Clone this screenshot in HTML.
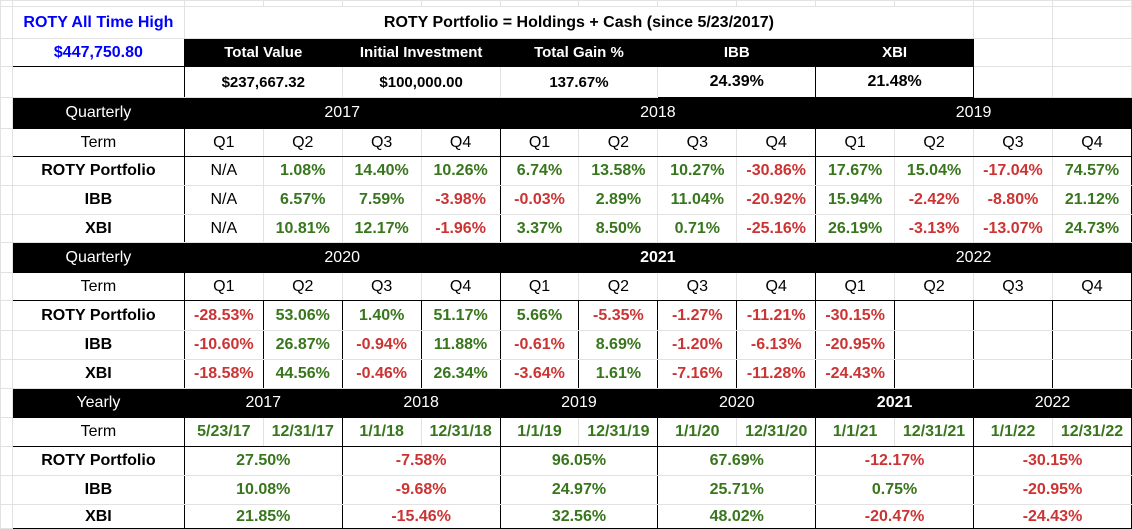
<!DOCTYPE html>
<html><head><meta charset="utf-8">
<style>
html,body{margin:0;padding:0;background:#fff;width:1132px;height:528px;overflow:hidden}
table{border-collapse:collapse;table-layout:fixed;font-family:"Liberation Sans",Arial,sans-serif;font-size:16px;position:absolute;left:0;top:0}
td{border:1px solid #e2e2e2;text-align:center;vertical-align:middle;padding:0;white-space:nowrap;overflow:hidden;color:#000}
.h{background:#000;color:#fff;border-color:#000}
.b{font-weight:bold}
.s{font-size:15px}
.g{color:#38761d;font-weight:bold}
.r{color:#cc3333;font-weight:bold}
.lb{border-left:1px solid #000}
.rb{border-right:1px solid #000}
.bb{border-bottom:1px solid #000}
.tb{border-top:1px solid #000}
.box{border:1px solid #000}
.pad{border-color:#e2e2e2;background:#fff}
</style></head><body>
<table>
<colgroup><col style="width:12px"><col style="width:172px">
<col style="width:79px"><col style="width:79px"><col style="width:79px"><col style="width:79px"><col style="width:79px"><col style="width:79px"><col style="width:79px"><col style="width:79px"><col style="width:79px"><col style="width:79px"><col style="width:79px"><col style="width:79px"></colgroup>
<tr style="height:6px"><td class="pad"></td><td></td><td></td><td></td><td></td><td></td><td></td><td></td><td></td><td></td><td></td><td></td><td></td><td></td></tr>
<tr style="height:32px"><td class="pad"></td>
<td style="color:#0000ff;font-weight:bold;font-size:16px">ROTY All Time High</td>
<td colspan="10" style="font-weight:bold;font-size:16px">ROTY Portfolio = Holdings + Cash (since 5/23/2017)</td><td></td><td></td></tr>
<tr style="height:28px"><td class="pad"></td>
<td class="box" style="color:#0000ff;font-weight:bold;font-size:16px">$447,750.80</td>
<td colspan="2" class="h b s">Total Value</td>
<td colspan="2" class="h b s">Initial Investment</td>
<td colspan="2" class="h b s">Total Gain %</td>
<td colspan="2" class="h b s">IBB</td>
<td colspan="2" class="h b s">XBI</td><td class="lb"></td><td></td></tr>
<tr style="height:31px"><td class="pad"></td><td class="lb rb"></td>
<td colspan="2" class="b s">$237,667.32</td>
<td colspan="2" class="b s">$100,000.00</td>
<td colspan="2" class="b s">137.67%</td>
<td colspan="2" class="b box">24.39%</td>
<td colspan="2" class="b box">21.48%</td><td class="lb"></td><td></td></tr>

<tr style="height:31px"><td class="pad"></td><td class="h">Quarterly</td>
<td colspan="4" class="h">2017</td><td colspan="4" class="h">2018</td><td colspan="4" class="h">2019</td></tr>
<tr style="height:28px"><td class="pad"></td><td class="lb rb bb">Term</td>
<td class="bb">Q1</td><td class="bb">Q2</td><td class="bb">Q3</td><td class="bb rb">Q4</td><td class="bb">Q1</td><td class="bb">Q2</td><td class="bb">Q3</td><td class="bb rb">Q4</td><td class="bb">Q1</td><td class="bb">Q2</td><td class="bb">Q3</td><td class="bb rb">Q4</td></tr>
<tr style="height:29px"><td class="pad"></td><td class="b lb rb">ROTY Portfolio</td>
<td>N/A</td><td class="g">1.08%</td><td class="g">14.40%</td><td class="g rb">10.26%</td><td class="g">6.74%</td><td class="g">13.58%</td><td class="g">10.27%</td><td class="r rb">-30.86%</td><td class="g">17.67%</td><td class="g">15.04%</td><td class="r">-17.04%</td><td class="g rb">74.57%</td></tr>
<tr style="height:29px"><td class="pad"></td><td class="b lb rb">IBB</td>
<td>N/A</td><td class="g">6.57%</td><td class="g">7.59%</td><td class="r rb">-3.98%</td><td class="r">-0.03%</td><td class="g">2.89%</td><td class="g">11.04%</td><td class="r rb">-20.92%</td><td class="g">15.94%</td><td class="r">-2.42%</td><td class="r">-8.80%</td><td class="g rb">21.12%</td></tr>
<tr style="height:28px"><td class="pad"></td><td class="b lb rb">XBI</td>
<td>N/A</td><td class="g">10.81%</td><td class="g">12.17%</td><td class="r rb">-1.96%</td><td class="g">3.37%</td><td class="g">8.50%</td><td class="g">0.71%</td><td class="r rb">-25.16%</td><td class="g">26.19%</td><td class="r">-3.13%</td><td class="r">-13.07%</td><td class="g rb">24.73%</td></tr>

<tr style="height:30px"><td class="pad"></td><td class="h">Quarterly</td>
<td colspan="4" class="h">2020</td><td colspan="4" class="h b">2021</td><td colspan="4" class="h">2022</td></tr>
<tr style="height:28px"><td class="pad"></td><td class="lb rb bb">Term</td>
<td class="bb">Q1</td><td class="bb">Q2</td><td class="bb">Q3</td><td class="bb rb">Q4</td><td class="bb">Q1</td><td class="bb">Q2</td><td class="bb">Q3</td><td class="bb rb">Q4</td><td class="bb">Q1</td><td class="bb">Q2</td><td class="bb">Q3</td><td class="bb rb">Q4</td></tr>
<tr style="height:30px"><td class="pad"></td><td class="b lb rb">ROTY Portfolio</td>
<td class="r rb">-28.53%</td><td class="g rb">53.06%</td><td class="g rb">1.40%</td><td class="g rb">51.17%</td><td class="g rb">5.66%</td><td class="r rb">-5.35%</td><td class="r rb">-1.27%</td><td class="r rb">-11.21%</td><td class="r rb">-30.15%</td><td class="rb tb"></td><td class="rb tb"></td><td class="rb tb"></td></tr>
<tr style="height:29px"><td class="pad"></td><td class="b lb rb">IBB</td>
<td class="r rb">-10.60%</td><td class="g rb">26.87%</td><td class="r rb">-0.94%</td><td class="g rb">11.88%</td><td class="r rb">-0.61%</td><td class="g rb">8.69%</td><td class="r rb">-1.20%</td><td class="r rb">-6.13%</td><td class="r rb">-20.95%</td><td class="rb"></td><td class="rb"></td><td class="rb"></td></tr>
<tr style="height:29px"><td class="pad"></td><td class="b lb rb">XBI</td>
<td class="r rb">-18.58%</td><td class="g rb">44.56%</td><td class="r rb">-0.46%</td><td class="g rb">26.34%</td><td class="r rb">-3.64%</td><td class="g rb">1.61%</td><td class="r rb">-7.16%</td><td class="r rb">-11.28%</td><td class="r rb">-24.43%</td><td class="rb"></td><td class="rb"></td><td class="rb"></td></tr>

<tr style="height:29px"><td class="pad"></td><td class="h">Yearly</td>
<td colspan="2" class="h">2017</td><td colspan="2" class="h">2018</td><td colspan="2" class="h">2019</td><td colspan="2" class="h">2020</td><td colspan="2" class="h b">2021</td><td colspan="2" class="h">2022</td></tr>
<tr style="height:29px"><td class="pad"></td><td class="lb rb bb">Term</td>
<td class="g bb">5/23/17</td><td class="g bb rb">12/31/17</td><td class="g bb">1/1/18</td><td class="g bb rb">12/31/18</td><td class="g bb">1/1/19</td><td class="g bb rb">12/31/19</td><td class="g bb">1/1/20</td><td class="g bb rb">12/31/20</td><td class="g bb">1/1/21</td><td class="g bb rb">12/31/21</td><td class="g bb">1/1/22</td><td class="g bb rb">12/31/22</td></tr>
<tr style="height:29px"><td class="pad"></td><td class="b lb rb">ROTY Portfolio</td>
<td colspan="2" class="g rb">27.50%</td><td colspan="2" class="r rb">-7.58%</td><td colspan="2" class="g rb">96.05%</td><td colspan="2" class="g rb">67.69%</td><td colspan="2" class="r rb">-12.17%</td><td colspan="2" class="r rb">-30.15%</td></tr>
<tr style="height:29px"><td class="pad"></td><td class="b lb rb">IBB</td>
<td colspan="2" class="g rb">10.08%</td><td colspan="2" class="r rb">-9.68%</td><td colspan="2" class="g rb">24.97%</td><td colspan="2" class="g rb">25.71%</td><td colspan="2" class="g rb">0.75%</td><td colspan="2" class="r rb">-20.95%</td></tr>
<tr style="height:24px"><td class="pad"></td><td class="b lb rb bb">XBI</td>
<td colspan="2" class="g rb bb">21.85%</td><td colspan="2" class="r rb bb">-15.46%</td><td colspan="2" class="g rb bb">32.56%</td><td colspan="2" class="g rb bb">48.02%</td><td colspan="2" class="r rb bb">-20.47%</td><td colspan="2" class="r rb bb">-24.43%</td></tr>
</table>
</body></html>
